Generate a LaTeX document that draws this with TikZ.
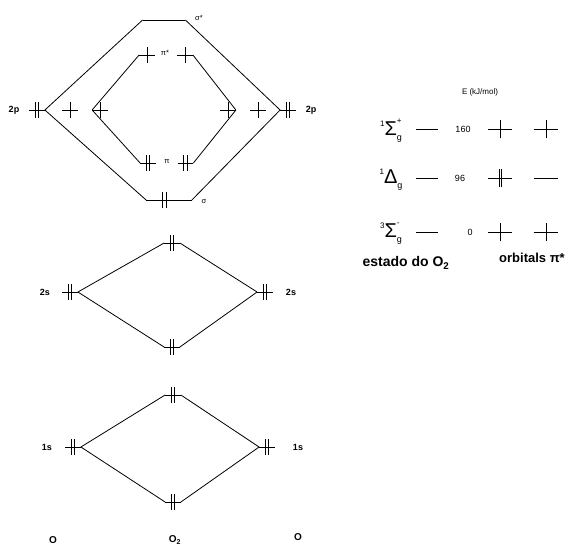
\documentclass[tikz,border=0pt]{standalone}
\usepackage{fontspec}
\setmainfont{Liberation Sans}
\usetikzlibrary{positioning}

% level line, one electron, electron pair
\newcommand{\lvl}[1]{\draw (#1.west) -- (#1.east);}
\newcommand{\el}[1]{\draw (#1.south) -- (#1.north);}
\newcommand{\elpair}[2][0pt]{\draw ([xshift={#1-1.8pt}]#2.south) -- ([xshift={#1-1.8pt}]#2.north); \draw ([xshift={#1+1.8pt}]#2.south) -- ([xshift={#1+1.8pt}]#2.north);}
\newcommand{\oterm}[4]{\raisebox{9pt}{\fontsize{8}{8}\selectfont #1}#2\rlap{\raisebox{12pt}{\fontsize{8}{8}\selectfont #3}}\raisebox{-5pt}{\fontsize{9}{9}\selectfont #4}}

\begin{document}
\begin{tikzpicture}[x=1pt, y=-1pt, line width=0.8pt,
    lev/.style={rectangle, inner sep=0pt, minimum width=15pt, minimum height=15pt},
    big/.style={lev, minimum width=24pt, minimum height=18pt},
    lbl/.style={font=\bfseries\fontsize{9}{10}\selectfont},
    sml/.style={font=\fontsize{7.5}{8}\selectfont}]
    \useasboundingbox (0,0) rectangle (576,547);

    % 2p
    \node[lev] (l2p) at (37,110) {};
    \node[lev] (r2p) at (288,110) {};
    \node[lev] (lpa) at (70,110) {}; \node[lev] (lpb) at (100,110) {};
    \node[lev] (rpb) at (228,110) {}; \node[lev] (rpa) at (258,110) {};
    \node[lev, minimum width=42pt] (ss) at (164,20) {};
    \node[lev, minimum width=45pt] (sg) at (169,200) {};
    \node[lev] (psa) at (147,55) {}; \node[lev] (psb) at (185,55) {};
    \node[lev] (pa) at (148,163) {}; \node[lev] (pb) at (185.5,163) {};

    \lvl{l2p} \lvl{r2p} \lvl{lpa} \lvl{lpb} \lvl{rpa} \lvl{rpb} \lvl{ss} \lvl{sg}
    \lvl{psa} \lvl{psb} \lvl{pa} \lvl{pb}
    \elpair{l2p} \elpair{r2p} \el{lpa} \el{lpb} \el{rpa} \el{rpb}
    \el{psa} \el{psb} \elpair{pa} \elpair{pb} \elpair[-4.5pt]{sg}

    \draw (l2p.east) -- (ss.west); \draw (ss.east) -- (r2p.west);
    \draw (l2p.east) -- (sg.west); \draw (sg.east) -- (r2p.west);
    \draw (lpb.west) -- (psa.west); \draw (psb.east) -- (rpb.east);
    \draw (lpb.west) -- (pa.west); \draw (pb.east) -- (rpb.east);

    \node[lbl] (t2pl) at (14,110) {2p};
    \node[lbl] (t2pr) at (311,110) {2p};
    \node[sml] (tss) at (199,18) {σ*};
    \node[sml] (tps) at (165,53) {π*};
    \node[sml] (tpi) at (167,162) {π};
    \node[sml] (tsg) at (204,202) {σ};

    % 2s
    \node[lev] (l2s) at (70,292) {};
    \node[lev] (t2s) at (172,243) {};
    \node[lev] (b2s) at (172,347) {};
    \node[lev] (r2s) at (265,292) {};
    \lvl{l2s} \lvl{t2s} \lvl{b2s} \lvl{r2s}
    \elpair{l2s} \elpair{t2s} \elpair{b2s} \elpair{r2s}
    \draw (l2s.east) -- (t2s.west); \draw (t2s.east) -- (r2s.west);
    \draw (l2s.east) -- (b2s.west); \draw (b2s.east) -- (r2s.west);
    \node[lbl] (t2sl) at (45,292) {2s};
    \node[lbl] (t2sr) at (291,292) {2s};

    % 1s
    \node[lev] (l1s) at (73,447) {};
    \node[lev] (t1s) at (173,395) {};
    \node[lev] (b1s) at (173,502) {};
    \node[lev] (r1s) at (267,447) {};
    \lvl{l1s} \lvl{t1s} \lvl{b1s} \lvl{r1s}
    \elpair{l1s} \elpair{t1s} \elpair{b1s} \elpair{r1s}
    \draw (l1s.east) -- (t1s.west); \draw (t1s.east) -- (r1s.west);
    \draw (l1s.east) -- (b1s.west); \draw (b1s.east) -- (r1s.west);
    \node[lbl] (t1sl) at (47,447) {1s};
    \node[lbl] (t1sr) at (298,447) {1s};

    \node[lbl, font=\bfseries\fontsize{10}{11}\selectfont] (oa) at (53,540) {O};
    \node[lbl, font=\bfseries\fontsize{10}{11}\selectfont] (oo) at (175,540) {O\textsubscript{2}};
    \node[lbl, font=\bfseries\fontsize{10}{11}\selectfont] (ob) at (298,537) {O};

    % estados do O2
    \node[sml, font=\fontsize{8}{9}\selectfont] (en) at (480,92) {E (kJ/mol)};
    \node[font=\fontsize{20}{20}\selectfont] (sa) at (391,131) {\oterm{1}{Σ}{+}{g}};
    \node[font=\fontsize{20}{20}\selectfont] (sb) at (391,180) {\oterm{1}{Δ}{}{g}};
    \node[font=\fontsize{20}{20}\selectfont] (sc) at (391,234) {\oterm{3}{Σ}{-}{g}};
    \node[big, minimum width=22pt] (da) at (427,129) {};
    \node[big, minimum width=22pt] (db) at (427,178) {};
    \node[big, minimum width=22pt] (dc) at (427,232) {};
    \node[sml, font=\fontsize{9}{10}\selectfont] (va) at (463,129) {160};
    \node[sml, font=\fontsize{9}{10}\selectfont] (vb) at (460,178) {96};
    \node[sml, font=\fontsize{9}{10}\selectfont] (vc) at (470,232) {0};
    \node[big] (oa1) at (500,129) {}; \node[big] (oa2) at (546,129) {};
    \node[big] (ob1) at (500,178) {}; \node[big] (ob2) at (546,178) {};
    \node[big] (oc1) at (500,232) {}; \node[big] (oc2) at (546,232) {};
    \lvl{da} \lvl{db} \lvl{dc}
    \lvl{oa1} \lvl{oa2} \lvl{ob1} \lvl{ob2} \lvl{oc1} \lvl{oc2}
    \el{oa1} \el{oa2} \el{oc1} \el{oc2}
    \draw[line width=1.6pt] ([xshift=-0.6pt]ob1.south) -- ([xshift=-0.6pt]ob1.north);
    \draw[line width=0.9pt] ([xshift=1pt]ob1.south) -- ([xshift=1pt]ob1.north);

    \node[lbl, font=\bfseries\fontsize{14}{15}\selectfont] (es) at (406,263) {estado do O\textsubscript{2}};
    \node[lbl, font=\bfseries\fontsize{13}{14}\selectfont] (op) at (532,258) {orbitals π*};
\end{tikzpicture}
\end{document}
